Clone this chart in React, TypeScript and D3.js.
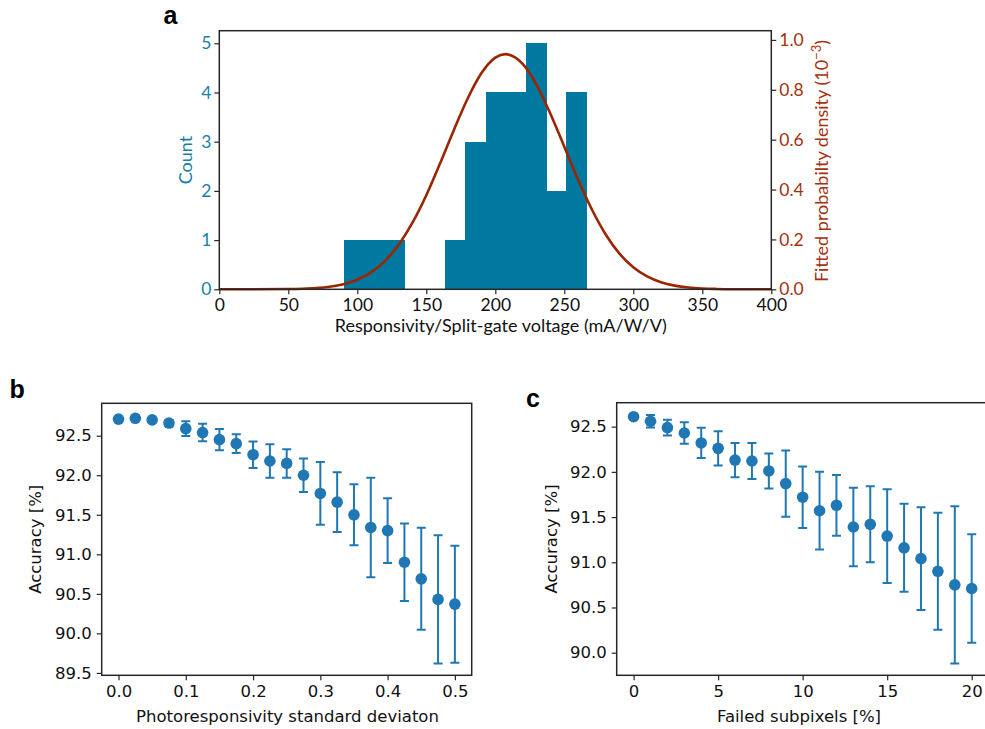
import React, { useEffect, useRef } from "react";
import * as d3 from "d3";

// panel a: histogram of responsivity / split-gate voltage
const binEdges = [90.4, 105.05, 119.7, 134.35, 149.0, 163.65, 178.3, 192.95, 207.6, 222.25, 236.9, 251.55, 266.2];
const binCounts = [1, 1, 1, 0, 0, 1, 3, 4, 4, 5, 2, 4];

// fitted normal density (units of 1e-3)
const fitX = [0, 25, 50, 60, 70, 80, 90, 100, 110, 120, 130, 140, 150, 160, 170, 180, 190, 200, 207.5, 210, 220, 230, 240, 250, 260, 270, 280, 290, 300, 310, 320, 330, 340, 350, 360, 375, 400];
const fitY = [0, 0.0001, 0.001, 0.0023, 0.005, 0.0105, 0.0207, 0.0384, 0.068, 0.113, 0.179, 0.267, 0.377, 0.505, 0.639, 0.765, 0.867, 0.929, 0.943, 0.941, 0.903, 0.819, 0.703, 0.572, 0.439, 0.32, 0.22, 0.143, 0.088, 0.0515, 0.0284, 0.0148, 0.0073, 0.0034, 0.0015, 0.0004, 0];

const countTicks = [0, 1, 2, 3, 4, 5];
const densityTicks = [0, 0.2, 0.4, 0.6, 0.8, 1.0];
const respTicks = [0, 50, 100, 150, 200, 250, 300, 350, 400];

// panel b: accuracy vs photoresponsivity std
const stdLevels = [0, 0.025, 0.05, 0.075, 0.1, 0.125, 0.15, 0.175, 0.2, 0.225, 0.25, 0.275, 0.3, 0.325, 0.35, 0.375, 0.4, 0.425, 0.45, 0.475, 0.5];
const accB = [92.71, 92.72, 92.7, 92.66, 92.59, 92.54, 92.45, 92.4, 92.26, 92.18, 92.15, 92.0, 91.77, 91.66, 91.5, 91.34, 91.3, 90.9, 90.69, 90.43, 90.37];
const errB = [0.015, 0.015, 0.025, 0.04, 0.093, 0.11, 0.135, 0.12, 0.167, 0.213, 0.18, 0.213, 0.397, 0.378, 0.386, 0.63, 0.41, 0.49, 0.645, 0.81, 0.74];
const stdTicks = [0, 0.1, 0.2, 0.3, 0.4, 0.5];
const accTicksB = [89.5, 90.0, 90.5, 91.0, 91.5, 92.0, 92.5];

// panel c: accuracy vs failed subpixels
const failedPct = [0, 1, 2, 3, 4, 5, 6, 7, 8, 9, 10, 11, 12, 13, 14, 15, 16, 17, 18, 19, 20];
const accC = [92.61, 92.56, 92.49, 92.43, 92.32, 92.26, 92.13, 92.12, 92.01, 91.87, 91.72, 91.57, 91.63, 91.39, 91.42, 91.29, 91.16, 91.04, 90.9, 90.75, 90.71];
const errC = [0.01, 0.068, 0.087, 0.118, 0.168, 0.19, 0.19, 0.2, 0.194, 0.367, 0.34, 0.43, 0.336, 0.435, 0.42, 0.518, 0.487, 0.568, 0.647, 0.87, 0.6];
const failedTicks = [0, 5, 10, 15, 20];
const accTicksC = [90.0, 90.5, 91.0, 91.5, 92.0, 92.5];

const TEAL = "#00789f";
const TEAL_TEXT = "#1a7fa5";
const RUST = "#9a2600";
const RUST_TEXT = "#a4320e";
const DOT = "#1f77b4";
const SPINE = "#262626";
const CALIBRI = "Lato, 'Open Sans', sans-serif";
const DEJAVU = "'DejaVu Sans', sans-serif";

const App = () => {
  const ref = useRef<SVGSVGElement>(null);

  useEffect(() => {
    const svg = d3.select(ref.current);
    svg.selectAll("*").remove();

    function styleAxis(g, color, font, size) {
      g.select(".domain").remove();
      g.selectAll(".tick line").attr("stroke", SPINE).attr("stroke-width", 1.2);
      g.selectAll(".tick text")
        .attr("fill", color)
        .style("font-family", font)
        .style("font-size", size + "px");
    }

    function frame(x0, y0, x1, y1) {
      svg
        .append("rect")
        .attr("x", x0)
        .attr("y", y0)
        .attr("width", x1 - x0)
        .attr("height", y1 - y0)
        .attr("fill", "none")
        .attr("stroke", SPINE)
        .attr("stroke-width", 1.5);
    }

    // ---------- panel a ----------
    const xA = d3.scaleLinear().domain([0, 400]).range([219.3, 771.3]);
    const yA = d3.scaleLinear().domain([0, 5.256]).range([289.3, 30.7]);
    const yA2 = d3.scaleLinear().domain([0, 1.037]).range([289.3, 30.7]);

    svg
      .append("g")
      .selectAll("rect")
      .data(binCounts)
      .join("rect")
      .attr("x", (d, i) => xA(binEdges[i]))
      .attr("width", (d, i) => xA(binEdges[i + 1]) - xA(binEdges[i]) + 0.3)
      .attr("y", (d) => yA(d))
      .attr("height", (d) => yA(0) - yA(d))
      .attr("fill", TEAL)
      .attr("shape-rendering", "crispEdges");

    const fitLine = d3
      .line<number>()
      .x((d, i) => xA(fitX[i]))
      .y((d) => yA2(d))
      .curve(d3.curveMonotoneX);

    svg
      .append("path")
      .datum(fitY)
      .attr("d", fitLine)
      .attr("fill", "none")
      .attr("stroke", RUST)
      .attr("stroke-width", 2.6);

    frame(219.3, 30.7, 771.3, 289.3);

    svg
      .append("g")
      .attr("transform", "translate(0,289.3)")
      .call(d3.axisBottom(xA).tickValues(respTicks).tickSize(5).tickPadding(4).tickFormat(d3.format("d")))
      .call((g) => styleAxis(g, "#111", CALIBRI, 17.5));

    svg
      .append("g")
      .attr("transform", "translate(219.3,0)")
      .call(d3.axisLeft(yA).tickValues(countTicks).tickSize(5).tickPadding(3).tickFormat(d3.format("d")))
      .call((g) => styleAxis(g, TEAL_TEXT, CALIBRI, 17.5));

    svg
      .append("g")
      .attr("transform", "translate(771.3,0)")
      .call(d3.axisRight(yA2).tickValues(densityTicks).tickSize(5).tickPadding(3).tickFormat(d3.format(".1f")))
      .call((g) => styleAxis(g, RUST_TEXT, CALIBRI, 17.5));

    svg
      .append("text")
      .attr("x", 500.8)
      .attr("y", 332)
      .attr("text-anchor", "middle")
      .style("font-family", CALIBRI)
      .style("font-size", "18px")
      .attr("fill", "#111")
      .text("Responsivity/Split-gate voltage (mA/W/V)");

    svg
      .append("text")
      .attr("transform", "translate(191.5,160) rotate(-90)")
      .attr("text-anchor", "middle")
      .style("font-family", CALIBRI)
      .style("font-size", "18px")
      .attr("fill", TEAL_TEXT)
      .text("Count");

    const dens = svg
      .append("text")
      .attr("transform", "translate(828,161) rotate(-90)")
      .attr("text-anchor", "middle")
      .style("font-family", CALIBRI)
      .style("font-size", "18px")
      .attr("fill", RUST_TEXT);
    dens.append("tspan").text("Fitted probabilty density (10");
    dens.append("tspan").attr("dy", -7).style("font-size", "13px").text("−3");
    dens.append("tspan").attr("dy", 7).text(")");

    // ---------- error-bar panels ----------
    function errorPanel(xs, ys, es, xDomain, yDomain, xRange, yRange, xTicks, yTicks, xFmt, xLabel, xLabelX, yLabelX) {
      const x = d3.scaleLinear().domain(xDomain).range(xRange);
      const y = d3.scaleLinear().domain(yDomain).range(yRange);

      const clipId = "clip" + Math.round(xRange[0]);
      svg
        .append("clipPath")
        .attr("id", clipId)
        .append("rect")
        .attr("x", xRange[0])
        .attr("y", yRange[1])
        .attr("width", xRange[1] - xRange[0])
        .attr("height", yRange[0] - yRange[1]);

      const pts = svg.append("g").attr("clip-path", `url(#${clipId})`);
      const rows = xs.map((v, i) => ({ x: v, y: ys[i], e: es[i] }));

      const bars = pts.selectAll("g.eb").data(rows).join("g").attr("class", "eb");
      bars
        .append("line")
        .attr("x1", (d) => x(d.x))
        .attr("x2", (d) => x(d.x))
        .attr("y1", (d) => y(d.y - d.e))
        .attr("y2", (d) => y(d.y + d.e))
        .attr("stroke", DOT)
        .attr("stroke-width", 2);
      [-1, 1].forEach((s) => {
        bars
          .append("line")
          .attr("x1", (d) => x(d.x) - 4.5)
          .attr("x2", (d) => x(d.x) + 4.5)
          .attr("y1", (d) => y(d.y + s * d.e))
          .attr("y2", (d) => y(d.y + s * d.e))
          .attr("stroke", DOT)
          .attr("stroke-width", 2);
      });
      bars
        .append("circle")
        .attr("cx", (d) => x(d.x))
        .attr("cy", (d) => y(d.y))
        .attr("r", 5.8)
        .attr("fill", DOT);

      frame(xRange[0], yRange[1], xRange[1], yRange[0]);

      svg
        .append("g")
        .attr("transform", `translate(0,${yRange[0]})`)
        .call(d3.axisBottom(x).tickValues(xTicks).tickSize(5).tickPadding(5).tickFormat(xFmt))
        .call((g) => styleAxis(g, "#111", DEJAVU, 16.5));

      svg
        .append("g")
        .attr("transform", `translate(${xRange[0]},0)`)
        .call(d3.axisLeft(y).tickValues(yTicks).tickSize(5).tickPadding(5).tickFormat(d3.format(".1f")))
        .call((g) => styleAxis(g, "#111", DEJAVU, 16.5));

      svg
        .append("text")
        .attr("x", xLabelX)
        .attr("y", 722)
        .attr("text-anchor", "middle")
        .style("font-family", DEJAVU)
        .style("font-size", "16.5px")
        .attr("fill", "#111")
        .text(xLabel);

      svg
        .append("text")
        .attr("transform", `translate(${yLabelX},${(yRange[0] + yRange[1]) / 2}) rotate(-90)`)
        .attr("text-anchor", "middle")
        .style("font-family", DEJAVU)
        .style("font-size", "16.5px")
        .attr("fill", "#111")
        .text("Accuracy [%]");
    }

    errorPanel(
      stdLevels, accB, errB,
      [-0.025, 0.525], [89.47, 92.91],
      [101.7, 471.7], [675.3, 403.3],
      stdTicks, accTicksB, d3.format(".1f"),
      "Photoresponsivity standard deviaton", 287.5, 40.5
    );

    errorPanel(
      failedPct, accC, errC,
      [-1, 21], [89.75, 92.765],
      [616.7, 988.6], [675.3, 402.7],
      failedTicks, accTicksC, d3.format("d"),
      "Failed subpixels [%]", 799, 556.5
    );

    // panel letters
    [["a", 163.5, 24], ["b", 9.5, 398], ["c", 526, 406.5]].forEach(([t, px, py]) => {
      svg
        .append("text")
        .attr("x", px)
        .attr("y", py)
        .style("font-family", "'Liberation Sans', Arial, sans-serif")
        .style("font-weight", "bold")
        .style("font-size", "25px")
        .attr("fill", "#000")
        .text(t as string);
    });
  }, []);

  return (
    <div style={{ position: "fixed", left: 0, top: 0, background: "#fff" }}>
      <svg ref={ref} width={985} height={729} style={{ display: "block" }} />
    </div>
  );
};

export default App;
